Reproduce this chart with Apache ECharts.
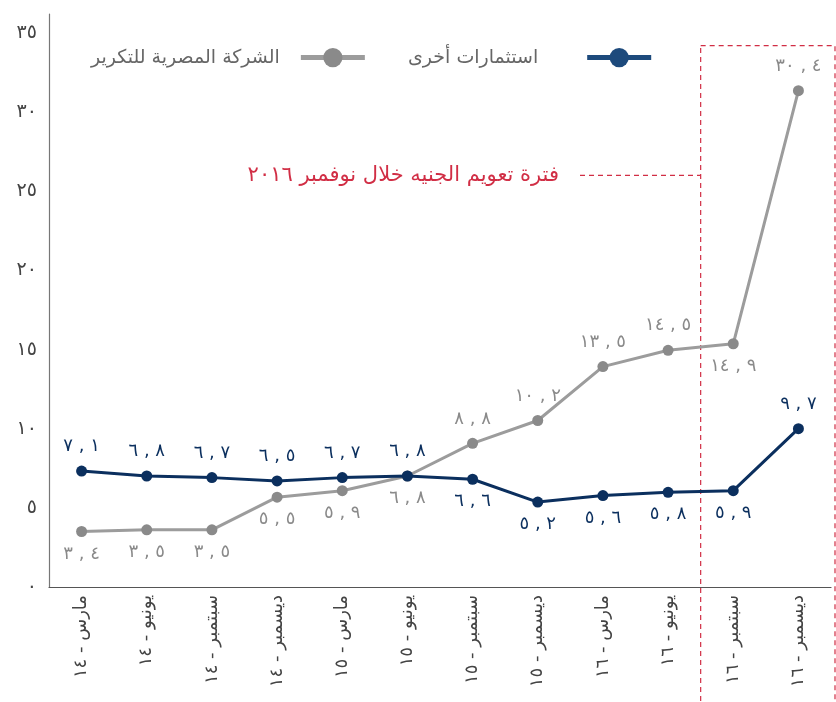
<!DOCTYPE html>
<html>
<head>
<meta charset="utf-8">
<script src="https://cdn.jsdelivr.net/npm/echarts@6/dist/echarts.min.js"></script>
<style>
  html, body { margin: 0; padding: 0; background: #fff; }
  #chart { width: 836px; height: 702px; }
</style>
</head>
<body>
<div id="chart"></div>
<script>
// البيانات
var months = ["مارس", "يونيو", "سبتمبر", "ديسمبر", "مارس", "يونيو", "سبتمبر", "ديسمبر", "مارس", "يونيو", "سبتمبر", "ديسمبر"];
var years = ["١٤", "١٤", "١٤", "١٤", "١٥", "١٥", "١٥", "١٥", "١٦", "١٦", "١٦", "١٦"];
var refinery = [3.4, 3.5, 3.5, 5.5, 5.9, 6.8, 8.8, 10.2, 13.5, 14.5, 14.9, 30.4];
var otherInvest = [7.1, 6.8, 6.7, 6.5, 6.7, 6.8, 6.6, 5.2, 5.6, 5.8, 5.9, 9.7];
var yTicks = [0, 5, 10, 15, 20, 25, 30, 35];
var refineryName = "الشركة المصرية للتكرير";
var otherName = "استثمارات أخرى";
var noteText = "فترة تعويم الجنيه خلال نوفمبر ٢٠١٦";
// مكان التسمية فوق او تحت النقطة
var refinerySide = ["bottom", "bottom", "bottom", "bottom", "bottom", "bottom", "top", "top", "top", "top", "bottom", "top"];
var otherSide = ["top", "top", "top", "top", "top", "top", "bottom", "bottom", "bottom", "bottom", "bottom", "top"];

var AR = "٠١٢٣٤٥٦٧٨٩";
function toArabic(n) {
  return String(n).replace(/[0-9]/g, function (d) { return AR[+d]; });
}
function fmtValue(v) {
  var parts = v.toFixed(1).split(".");
  return toArabic(parts[0]) + "\u200E , \u200E" + toArabic(parts[1]);
}

var categories = months.map(function (m, i) { return m + " - " + years[i]; });

function buildData(values, sides) {
  return values.map(function (v, i) {
    return {
      value: v,
      label: { position: sides[i], distance: sides[i] === "top" ? 10 : 8 }
    };
  });
}

var FONT = "DejaVu Sans";
var chartDom = document.getElementById("chart");
var myChart = echarts.init(chartDom);

var legendBase = {
  top: 43,
  align: "right",
  itemWidth: 64,
  itemHeight: 24,
  lineStyle: { width: 5 }
};

var option = {
  animation: false,
  textStyle: { fontFamily: FONT },
  grid: { left: 49, right: 5, top: 14, bottom: 115 },
  legend: [
    Object.assign({}, legendBase, {
      left: 86,
      data: [refineryName],
      textStyle: { fontSize: 19, color: "#666", fontFamily: FONT, padding: [0, 16, 0, 0] }
    }),
    Object.assign({}, legendBase, {
      left: 403,
      data: [{ name: otherName, itemStyle: { color: "#1d4a7c" }, lineStyle: { color: "#1d4a7c" } }],
      textStyle: { fontSize: 19, color: "#666", fontFamily: FONT, padding: [0, 44, 0, 0] }
    })
  ],
  xAxis: {
    type: "category",
    data: categories,
    axisLine: { lineStyle: { color: "#555", width: 1.2 } },
    axisTick: { show: false },
    axisLabel: {
      rotate: 90,
      interval: 0,
      margin: 8,
      fontSize: 18,
      color: "#444",
      fontFamily: FONT
    }
  },
  yAxis: [
    {
      // محور البيانات
      type: "value",
      min: 0,
      max: 35.1,
      splitLine: { show: false },
      axisTick: { show: false },
      axisLabel: { show: false },
      axisLine: { show: true, lineStyle: { color: "#777", width: 1.2 } }
    },
    {
      // محور التسميات
      type: "value",
      position: "left",
      min: 0,
      max: 36.2,
      interval: 5,
      splitLine: { show: false },
      axisTick: { show: false },
      axisLine: { show: false },
      axisLabel: {
        showMaxLabel: false,
        margin: 12,
        fontSize: 19,
        color: "#444",
        fontFamily: FONT,
        formatter: function (v) {
          return yTicks.indexOf(v) >= 0 ? toArabic(v) : "";
        }
      }
    }
  ],
  series: [
    {
      name: refineryName,
      type: "line",
      yAxisIndex: 0,
      data: buildData(refinery, refinerySide),
      symbol: "circle",
      symbolSize: 11,
      lineStyle: { color: "#9c9c9c", width: 3 },
      itemStyle: { color: "#8a8a8a" },
      label: {
        show: true,
        fontSize: 18,
        color: "#8a8a8a",
        fontFamily: FONT,
        formatter: function (p) { return fmtValue(p.value); }
      },
      z: 3
    },
    {
      name: otherName,
      type: "line",
      yAxisIndex: 0,
      data: buildData(otherInvest, otherSide),
      symbol: "circle",
      symbolSize: 11,
      lineStyle: { color: "#0b2f5e", width: 3 },
      itemStyle: { color: "#0b2f5e" },
      label: {
        show: true,
        fontSize: 18,
        color: "#0b2f5e",
        fontFamily: FONT,
        formatter: function (p) { return fmtValue(p.value); }
      },
      z: 4
    }
  ]
};

myChart.setOption(option);

// مستطيل فترة التعويم والتعليق
var c9 = myChart.convertToPixel({ xAxisIndex: 0 }, 9);
var c10 = myChart.convertToPixel({ xAxisIndex: 0 }, 10);
var boxLeft = (c9 + c10) / 2;
var boxTop = myChart.convertToPixel({ yAxisIndex: 1 }, 34.2);
var noteY = myChart.convertToPixel({ yAxisIndex: 1 }, 26.0);
var red = "#d12e45";

myChart.setOption({
  graphic: [
    {
      type: "rect",
      shape: { x: boxLeft, y: boxTop, width: 835 - boxLeft, height: 702 - boxTop + 5 },
      style: { fill: "none", stroke: red, lineWidth: 1.2, lineDash: [5, 4] },
      silent: true,
      z: 1
    },
    {
      type: "line",
      shape: { x1: 580, y1: noteY, x2: boxLeft, y2: noteY },
      style: { stroke: red, lineWidth: 1.2, lineDash: [5, 4] },
      silent: true
    },
    {
      type: "text",
      x: 559,
      y: noteY,
      style: {
        text: noteText,
        fill: red,
        fontSize: 21,
        fontFamily: FONT,
        align: "right",
        verticalAlign: "middle"
      },
      silent: true
    }
  ]
});

window.addEventListener("resize", function () {
  myChart.resize();
});
</script>
</body>
</html>
